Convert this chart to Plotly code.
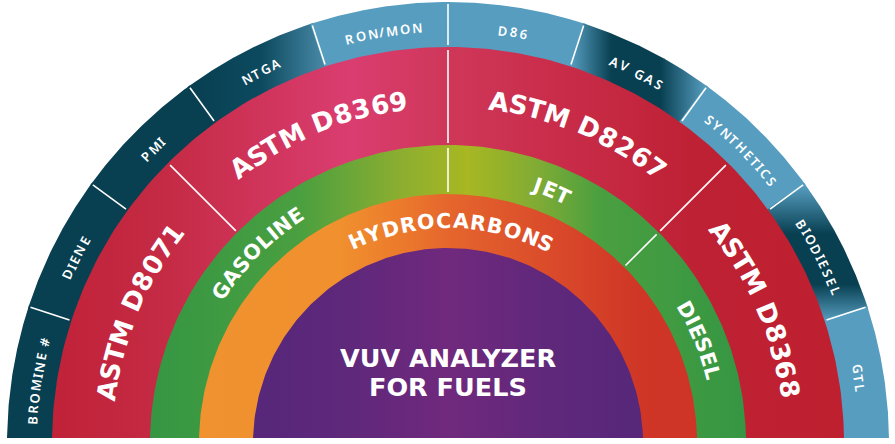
import numpy as np
import plotly.graph_objects as go

WIDTH, HEIGHT = 895, 444
CX, CY = 448, 1      # hub of the half circle, y measured up from the page bottom
CUT_Y = 6            # artwork is trimmed flat here
FONT = "DejaVu Sans"
SMALL_FONT = "Noto Sans"

# ring radii, outer to inner
R_OUTER, R_RED, R_GREEN, R_ORANGE, R_PURPLE = 441, 396, 298, 249, 195

# outer ring: ten equal sectors, left to right
outer_labels = ["BROMINE #", "DIENE", "PMI", "NTGA", "RON/MON", "D86", "AV GAS", "SYNTHETICS", "BIODIESEL", "GTL"]
outer_edges = [180, 162, 144, 126, 108, 90, 72, 54, 36, 18, 0]
outer_label_theta = [171.4, 153.5, 135, 116.7, 99, 81, 63, 45, 26.6, 9]

# methods ring
method_labels = ["ASTM D8071", "ASTM D8369", "ASTM D8267", "ASTM D8368"]
method_theta = [157, 112.6, 67.2, 23.4]
method_edges = [135, 90, 45]

# fuels and inner ring
fuel_labels = ["GASOLINE", "JET", "DIESEL"]
fuel_theta = [135, 68, 22]
fuel_edges = [90, 45]
inner_label = "HYDROCARBONS"
inner_theta = 89
center_lines = ["VUV ANALYZER", "FOR FUELS"]

# gradient stops: page x (or y for biodiesel) and colour
DARK, BLUE = "#083f51", "#569dbf"
ntga_x = [190, 262, 326]
ntga_colors = [DARK, "#0d4a5f", "#4a8aa8"]
avgas_x = [571, 612, 660, 706]
avgas_colors = [BLUE, DARK, DARK, BLUE]
bio_y = [123, 160, 210, 258]
bio_colors = [BLUE, DARK, DARK, BLUE]
red_x = [52, 170, 350, 447, 560, 700, 844]
red_colors = ["#c02238", "#c52b45", "#da3d70", "#cf3759", "#c92c49", "#be2133", "#be2030"]
green_x = [150, 300, 400, 467, 540, 600, 746]
green_colors = ["#359643", "#4a9f40", "#8bae30", "#a8b722", "#7eab35", "#4a9f40", "#359643"]
orange_x = [199, 340, 400, 448, 560, 640, 697]
orange_colors = ["#f0922f", "#f0902e", "#ec7a2c", "#e5662d", "#d9482a", "#cf3626", "#cf3426"]
purple_x = [253, 350, 450, 550, 643]
purple_colors = ["#56277a", "#5f287b", "#70297d", "#5f287b", "#56277a"]

# rough uppercase advance widths, in em
ADVANCE = {"A": .76, "B": .74, "C": .72, "D": .82, "E": .66, "F": .62, "G": .78, "H": .8, "I": .3,
           "J": .55, "K": .74, "L": .6, "M": .94, "N": .8, "O": .85, "P": .7, "R": .72, "S": .62,
           "T": .6, "U": .78, "V": .72, "Y": .68, "Z": .66, "#": .7, "/": .42, " ": .3, "1": .6}


def polar(r, theta):
    t = np.radians(theta)
    return CX + r * np.cos(t), CY + r * np.sin(t)


def scale(stops, colors, lo, hi):
    return [[(s - lo) / (hi - lo), c] for s, c in zip(stops, colors)]


def wedge(r, t0, t1, name, color=None, gradient=None):
    theta = np.linspace(t0, t1, 200)
    x, y = polar(r, theta)
    x = np.r_[CX, x, CX]
    y = np.maximum(np.r_[CY, y, CY], CUT_Y)
    kw = {"fillgradient": gradient} if gradient else {"fillcolor": color}
    return go.Scatter(x=x, y=y, mode="lines", line=dict(width=0), fill="toself",
                      name=name, hoverinfo="skip", showlegend=False, **kw)


def band(stops, colors, kind="horizontal", lo=0, hi=WIDTH):
    return dict(type=kind, start=lo, stop=hi, colorscale=scale([lo] + stops + [hi], [colors[0]] + colors + [colors[-1]], lo, hi))


def divider(theta, r0, r1):
    x, y = polar(np.array([r0, r1]), theta)
    return go.Scatter(x=x, y=y, mode="lines", line=dict(color="white", width=1.6),
                      hoverinfo="skip", showlegend=False)


def curved_text(text, theta, r, size, tracking, weight, family=FONT):
    # glyphs are set one by one along the arc, clockwise
    adv = np.array([ADVANCE.get(c, .65) * size + tracking for c in text])
    pos = np.cumsum(adv) - adv / 2
    pos = pos - (pos[0] + pos[-1]) / 2
    out = []
    for ch, p in zip(text, pos):
        if ch == " ":
            continue
        a = theta - np.degrees(p / r)
        x, y = polar(r, a)
        out.append(dict(x=x, y=y, xref="x", yref="y", text=ch, showarrow=False, textangle=90 - a,
                        xanchor="center", yanchor="middle", borderpad=0,
                        font=dict(family=family, size=size, color="white", weight=weight)))
    return out


fig = go.Figure()

# outer ring sectors
sector_style = [
    dict(color=DARK), dict(color=DARK), dict(color=DARK),
    dict(gradient=band(ntga_x, ntga_colors)),
    dict(color=BLUE), dict(color=BLUE),
    dict(gradient=band(avgas_x, avgas_colors)),
    dict(color=BLUE),
    dict(gradient=band(bio_y, bio_colors, "vertical", 0, HEIGHT)),
    dict(color=BLUE),
]
for i, label in enumerate(outer_labels):
    fig.add_trace(wedge(R_OUTER, outer_edges[i] + .2, outer_edges[i + 1] - .2, label, **sector_style[i]))

fig.add_trace(wedge(R_RED, 180, 0, "methods", gradient=band(red_x, red_colors)))
fig.add_trace(wedge(R_GREEN, 180, 0, "fuels", gradient=band(green_x, green_colors)))
fig.add_trace(wedge(R_ORANGE, 180, 0, inner_label, gradient=band(orange_x, orange_colors)))
fig.add_trace(wedge(R_PURPLE, 180, 0, "core", gradient=band(purple_x, purple_colors)))

for t in outer_edges[1:-1]:
    fig.add_trace(divider(t, 398, 439))
for t in method_edges:
    fig.add_trace(divider(t, 300, 393))
for t in fuel_edges:
    fig.add_trace(divider(t, 251, 295))

notes = []
for label, t in zip(outer_labels, outer_label_theta):
    notes += curved_text(label, t, 416, 13, 1.3, 600, SMALL_FONT)
for label, t in zip(method_labels, method_theta):
    notes += curved_text(label, t, 345, 26, 2.0, 700)
for label, t in zip(fuel_labels, fuel_theta):
    notes += curved_text(label, t, 273, 20.5, 1.6, 700)
notes += curved_text(inner_label, inner_theta, 222, 20.5, 2.0, 700)
for line, y in zip(center_lines, [86, 57]):
    notes.append(dict(x=CX, y=y, xref="x", yref="y", text=line, showarrow=False,
                      font=dict(family=FONT, size=25.5, color="white", weight=700)))

fig.update_layout(
    width=WIDTH, height=HEIGHT,
    margin=dict(l=0, r=0, t=0, b=0),
    paper_bgcolor="white", plot_bgcolor="white",
    showlegend=False, annotations=notes,
    xaxis=dict(range=[0, WIDTH], visible=False, fixedrange=True),
    yaxis=dict(range=[0, HEIGHT], visible=False, fixedrange=True),
)

# the page body has a default margin that would push the figure off the window
fig.write_html("out.html", config={"displayModeBar": False},
               post_script="document.body.style.margin='0'")
